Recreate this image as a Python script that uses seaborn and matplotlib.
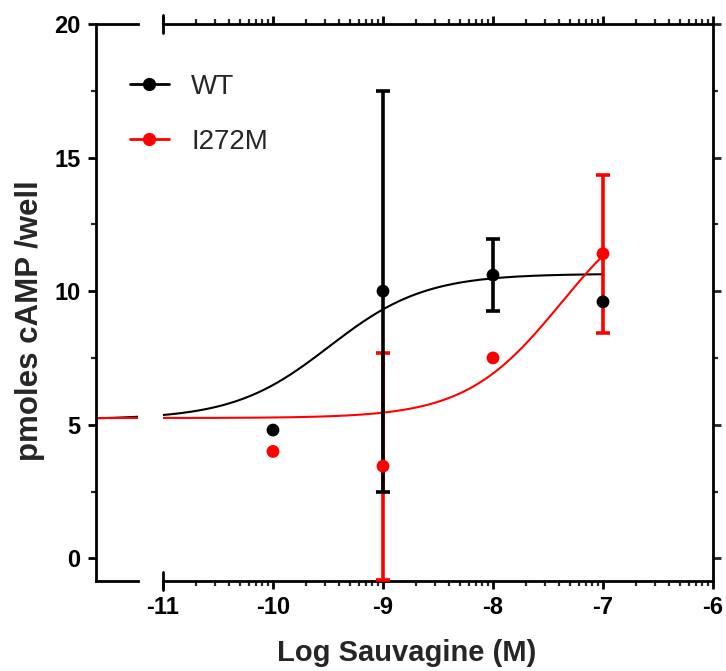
import numpy as np
import pandas as pd
import matplotlib
matplotlib.use("Agg")
import matplotlib.pyplot as plt
from matplotlib.lines import Line2D
from matplotlib.ticker import FixedLocator
import seaborn as sns

# measured points (log M, pmoles cAMP / well)
log_dose = [-10, -9, -8, -7]
wt_mean = [4.8, 10.0, 10.6, 9.6]
wt_sem = [0.0, 7.5, 1.35, 0.0]
mut_mean = [4.0, 3.45, 7.5, 11.4]
mut_sem = [0.0, 4.25, 0.0, 2.95]

# four-parameter fit: bottom, top, logEC50
wt_fit = [5.2, 10.65, -9.49]
mut_fit = [5.25, 13.87, -7.38]
curve_from, curve_to = -11.61, -7.0

BLACK = "#000000"
RED = "#ff0000"


def fit_curve(params):
    bottom, top, logec50 = params
    x = np.linspace(curve_from, curve_to, 300)
    y = bottom + (top - bottom) / (1 + 10 ** (logec50 - x))
    return pd.DataFrame({"x": x, "y": y})


def with_error(xs, ys, errs):
    keep = [i for i, e in enumerate(errs) if e > 0]
    return [xs[i] for i in keep], [ys[i] for i in keep], [errs[i] for i in keep]


sns.set_theme(style="ticks")
plt.rcParams["font.family"] = ["Liberation Sans", "DejaVu Sans"]
plt.rcParams["axes.unicode_minus"] = False

fig = plt.figure(figsize=(7.26, 6.71), dpi=100)
W, H = 726, 671
ax_l = fig.add_axes([96 / W, 1 - 581 / H, 42 / W, 557 / H])
ax_r = fig.add_axes([163 / W, 1 - 581 / H, 550 / W, 557 / H])

ylim = (-0.85, 20)
for ax in (ax_l, ax_r):
    ax.set_ylim(*ylim)
    for s in ax.spines.values():
        s.set_linewidth(2)
        s.set_color(BLACK)
    for params, col in ((wt_fit, BLACK), (mut_fit, RED)):
        sns.lineplot(data=fit_curve(params), x="x", y="y", ax=ax, color=col,
                     linewidth=1.5, zorder=2)
    ax.set_xlabel("")
    ax.set_ylabel("")

ax_l.set_xlim(-11.609, -11.227)
ax_r.set_xlim(-11, -6)

# error bars first, then markers
ex, ey, ee = with_error(log_dose, mut_mean, mut_sem)
ax_r.errorbar(ex, ey, yerr=ee, fmt="none", ecolor=RED,
              elinewidth=2.6, capsize=5, capthick=2.6, zorder=3)
ex, ey, ee = with_error(log_dose, wt_mean, wt_sem)
ax_r.errorbar(ex, ey, yerr=ee, fmt="none", ecolor=BLACK,
              elinewidth=2.6, capsize=5, capthick=2.6, zorder=4)
sns.scatterplot(x=log_dose, y=wt_mean, ax=ax_r, color=BLACK, s=85,
                edgecolor="none", zorder=5)
sns.scatterplot(x=log_dose, y=mut_mean, ax=ax_r, color=RED, s=85,
                edgecolor="none", zorder=6)

# left (broken) segment
ax_l.spines["right"].set_visible(False)
ax_l.set_xticks([])
ax_l.set_yticks([0, 5, 10, 15, 20])
ax_l.yaxis.set_minor_locator(FixedLocator([2.5, 7.5, 12.5, 17.5]))
ax_l.tick_params(axis="y", which="major", direction="out", length=6, width=2,
                 labelsize=17, pad=5, colors=BLACK)
ax_l.tick_params(axis="y", which="minor", direction="out", length=3.5, width=1.6)
for lab in ax_l.get_yticklabels():
    lab.set_fontweight("bold")

# main segment
ax_r.spines["left"].set_visible(False)
ax_r.set_xticks([-11, -10, -9, -8, -7, -6])
minor = [d + np.log10(k) for d in range(-11, -6) for k in range(2, 10)]
ax_r.xaxis.set_minor_locator(FixedLocator(minor))
ax_r.tick_params(axis="x", which="major", direction="out", length=6, width=2,
                 top=True, bottom=True, labelsize=17, pad=5, colors=BLACK)
ax_r.tick_params(axis="x", which="minor", direction="out", length=3.5,
                 width=1.6, top=True, bottom=True)
for lab in ax_r.get_xticklabels():
    lab.set_fontweight("bold")
ax_r.set_yticks([0, 5, 10, 15, 20])
ax_r.yaxis.set_minor_locator(FixedLocator([2.5, 7.5, 12.5, 17.5]))
ax_r.tick_params(axis="y", which="both", left=False, right=True,
                 labelleft=False, direction="out", width=2)
ax_r.tick_params(axis="y", which="major", length=6)
ax_r.tick_params(axis="y", which="minor", length=3.5, width=1.6)

# end caps at the start of the main segment
trans = ax_r.get_xaxis_transform()
for yy in (0, 1):
    ax_r.add_line(Line2D([-11, -11], [yy - 0.016, yy + 0.016], transform=trans,
                         color=BLACK, linewidth=2, clip_on=False))

fig.text(30 / W, 1 - 321 / H, "pmoles cAMP /well", rotation=90, ha="center",
         va="center", fontsize=22.5, fontweight="bold")
fig.text(407 / W, 1 - 653 / H, "Log Sauvagine (M)", ha="center", va="center",
         fontsize=21, fontweight="bold")

handles = [
    Line2D([], [], color=BLACK, marker="o", markersize=8.5, linewidth=2),
    Line2D([], [], color=RED, marker="o", markersize=8.5, linewidth=2),
]
fig.legend(handles, ["WT", "I272M"], loc="upper left",
           bbox_to_anchor=(130 / W, 1 - 74 / H), frameon=False, fontsize=20,
           handlelength=1.4, handletextpad=0.8, labelspacing=1.05,
           borderpad=0, borderaxespad=0)

fig.savefig("out.png", dpi=100)
